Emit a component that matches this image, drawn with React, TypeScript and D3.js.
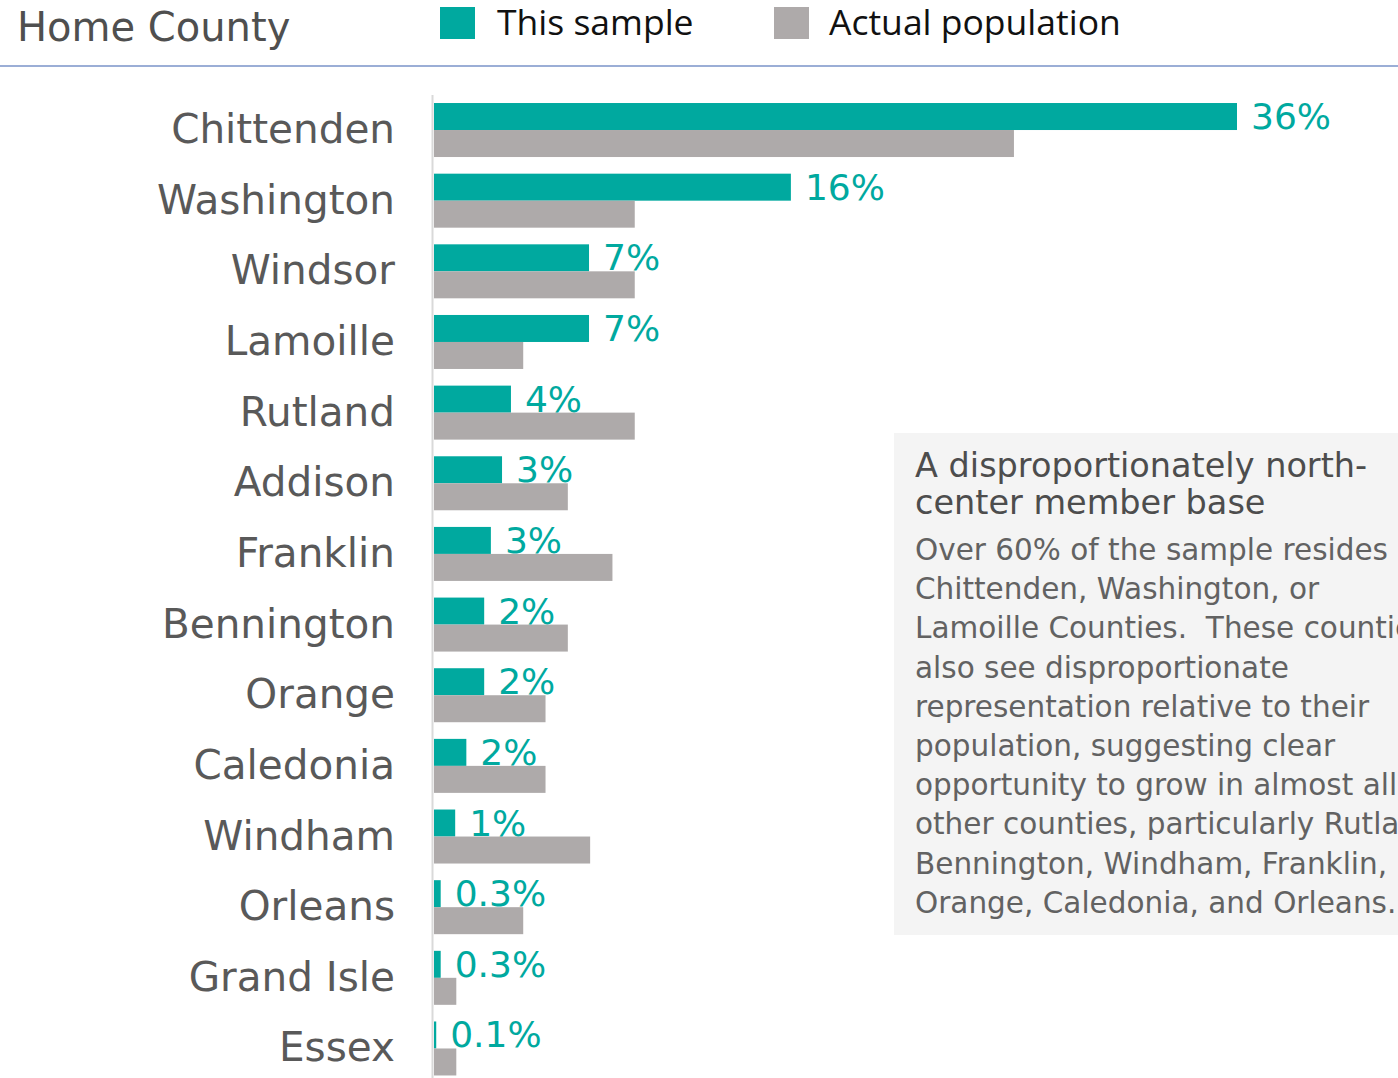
import React from "react";
import * as d3 from "d3";

const categories = [
  "Chittenden", "Washington", "Windsor", "Lamoille", "Rutland", "Addison", "Franklin",
  "Bennington", "Orange", "Caledonia", "Windham", "Orleans", "Grand Isle", "Essex",
];
const sampleValues = [36, 16, 6.95, 6.95, 3.45, 3.05, 2.55, 2.25, 2.25, 1.45, 0.95, 0.3, 0.3, 0.1];
const sampleLabels = ["36%", "16%", "7%", "7%", "4%", "3%", "3%", "2%", "2%", "2%", "1%", "0.3%", "0.3%", "0.1%"];
const populationValues = [26, 9, 9, 4, 9, 6, 8, 6, 5, 5, 7, 4, 1, 1];
const seriesNames = ["This sample", "Actual population"];
const title = "Home County";
const noteTitle = ["A disproportionately north-", "center member base"];
const noteBody = [
  "Over 60% of the sample resides in",
  "Chittenden, Washington, or",
  "Lamoille Counties.  These counties",
  "also see disproportionate",
  "representation relative to their",
  "population, suggesting clear",
  "opportunity to grow in almost all",
  "other counties, particularly Rutland,",
  "Bennington, Windham, Franklin,",
  "Orange, Caledonia, and Orleans.",
];

const W = 1398;
const H = 1078;
const TEAL = "#00A99F";
const GRAY = "#AEAAAA";
const FONT = "'DejaVu Sans', sans-serif";
const LEGEND_FONT = "'Open Sans', sans-serif";

export default function App() {
  const x = d3.scaleLinear().domain([0, 36]).range([434, 1237]);
  const y = d3
    .scaleBand<string>()
    .domain(categories)
    .range([94.7, 94.7 + 70.65 * 14])
    .paddingInner(0.2357)
    .paddingOuter(0.1178);
  const bw = y.bandwidth();
  const half = bw / 2;

  return (
    <svg width={W} height={H} style={{ position: "absolute", left: 0, top: 0, background: "#fff" }}>
      <text x={17} y={41} fontFamily={FONT} fontSize={40} fill="#4f4f4f">{title}</text>
      <rect x={440} y={7} width={35} height={32} fill={TEAL} />
      <text x={497} y={35} fontFamily={LEGEND_FONT} fontSize={35.5} fill="#111">{seriesNames[0]}</text>
      <rect x={774} y={7} width={35} height={32} fill={GRAY} />
      <text x={829} y={35} fontFamily={LEGEND_FONT} fontSize={35.5} fill="#111">{seriesNames[1]}</text>
      <line x1={0} x2={W} y1={66} y2={66} stroke="#7a93c8" strokeWidth={1.5} />

      <rect x={894} y={433} width={520} height={502} fill="#F4F4F4" />
      {noteTitle.map((t, i) => (
        <text key={t} x={915} y={477 + i * 37} fontFamily={FONT} fontSize={33.5} fill="#4d4d4d">{t}</text>
      ))}
      {noteBody.map((t, i) => (
        <text key={i} x={915} y={560 + i * 39.2} fontFamily={FONT} fontSize={29.5} fill="#626262" style={{ whiteSpace: "pre" }}>{t}</text>
      ))}

      {categories.map((c, i) => {
        const y0 = y(c)!;
        return (
          <g key={c}>
            <text x={395} y={y0 + half + 13} textAnchor="end" fontFamily={FONT} fontSize={40.5} fill="#595959">{c}</text>
            <rect x={x(0)} y={y0} width={x(sampleValues[i]) - x(0)} height={half} fill={TEAL} />
            <rect x={x(0)} y={y0 + half} width={x(populationValues[i]) - x(0)} height={half} fill={GRAY} />
            <text x={x(sampleValues[i]) + 14} y={y0 + half - 1} fontFamily={FONT} fontSize={36} fill={TEAL}>{sampleLabels[i]}</text>
          </g>
        );
      })}
      <line x1={432.5} x2={432.5} y1={95} y2={H} stroke="#d9d9d9" strokeWidth={2} />
    </svg>
  );
}
